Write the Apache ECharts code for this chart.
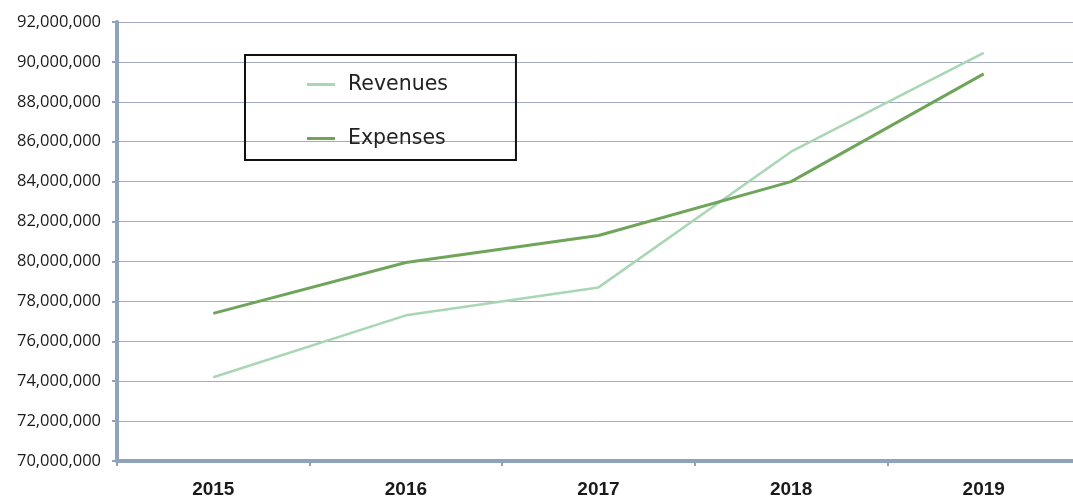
<!DOCTYPE html>
<html><head><meta charset="utf-8">
<script src="https://cdn.jsdelivr.net/npm/echarts@6/dist/echarts.min.js"></script>
<style>html,body{margin:0;padding:0;background:#fff}#c{width:1073px;height:504px}</style>
</head><body><div id="c"></div>
<script>
const years = ['2015','2016','2017','2018','2019'];
const revenues = [74200000, 77300000, 78700000, 85500000, 90450000];
const expenses = [77400000, 79950000, 81300000, 84000000, 89400000];
const yMin = 70000000, yMax = 92000000, yStep = 2000000;

const chart = echarts.init(document.getElementById('c'), null, {renderer:'canvas'});
chart.setOption({
  animation:false,
  backgroundColor:'#ffffff',
  grid:{left:117, width:963, top:22, bottom:43, containLabel:false, outerBoundsMode:'none'},
  legend:{
    left:245, top:55, orient:'vertical',
    data:['Revenues','Expenses'],
    borderColor:'#111', borderWidth:2, padding:[19,68,11,62],
    itemGap:33, itemWidth:28, itemHeight:3, icon:'rect',
    textStyle:{fontFamily:'"DejaVu Sans", sans-serif', fontSize:20.5, color:'#222', padding:[0,0,0,8]}
  },
  xAxis:{
    type:'category', data:years, boundaryGap:true,
    axisLine:{lineStyle:{color:'#8fa3bd', width:4}},
    axisTick:{show:true, alignWithLabel:false, length:5, lineStyle:{color:'#8fa3bd', width:2}},
    axisLabel:{fontFamily:'"Liberation Sans", Arial, sans-serif', fontWeight:'bold', fontSize:19, color:'#1a1a1a', margin:19},
    splitLine:{show:false}
  },
  yAxis:{
    type:'value', min:yMin, max:yMax, interval:yStep,
    axisLine:{show:true, lineStyle:{color:'#8fa3bd', width:4}},
    axisTick:{show:true, length:5, lineStyle:{color:'#8fa3bd', width:2}},
    axisLabel:{fontFamily:'"Open Sans", "Liberation Sans", sans-serif', fontSize:16.5, color:'#1a1a1a', margin:16,
      formatter:v=>v.toLocaleString('en-US')},
    splitLine:{lineStyle:{color:'#a3a9c2', width:1}}
  },
  series:[
    {name:'Revenues', type:'line', data:revenues, symbol:'none', smooth:false,
     lineStyle:{color:'#a9d6b4', width:2.5}, itemStyle:{color:'#a9d6b4'}},
    {name:'Expenses', type:'line', data:expenses, symbol:'none', smooth:false,
     lineStyle:{color:'#6fa55a', width:3}, itemStyle:{color:'#6fa55a'}}
  ]
});
</script></body></html>
